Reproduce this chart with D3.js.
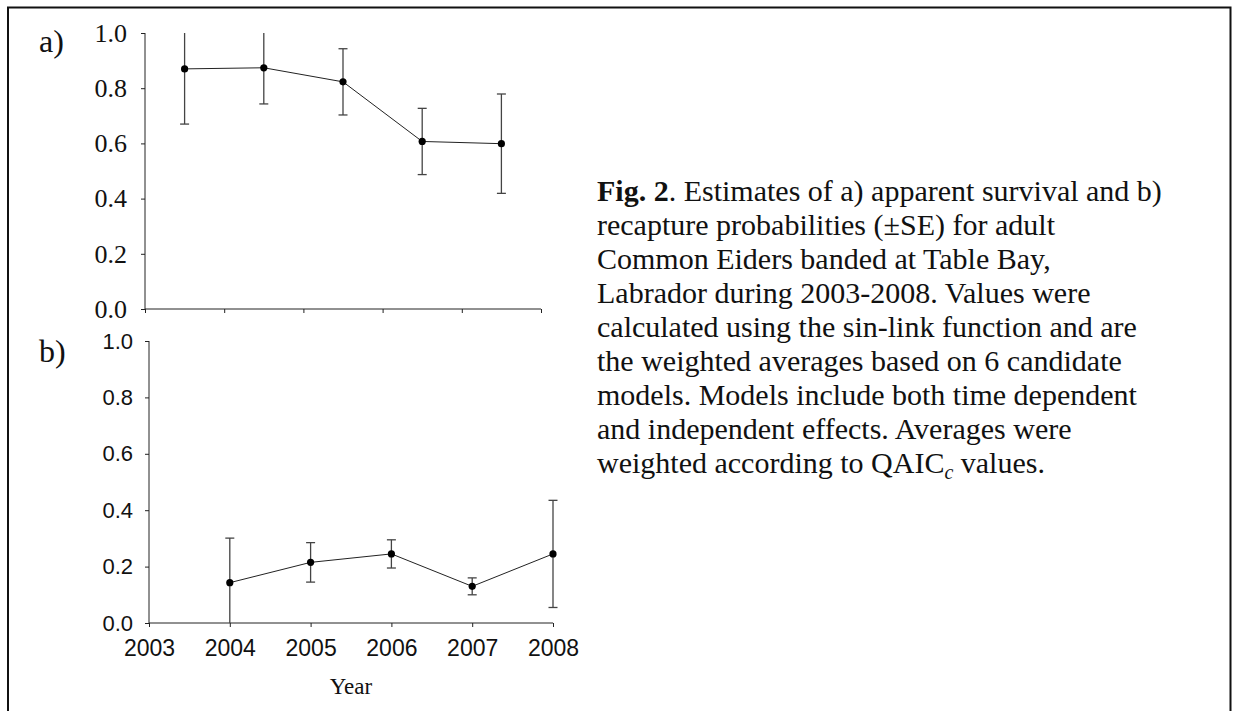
<!DOCTYPE html>
<html>
<head>
<meta charset="utf-8">
<script src="https://cdn.jsdelivr.net/npm/d3@7"></script>
<style>
  html, body { margin: 0; padding: 0; background: #fff; }
  svg { display: block; }
</style>
</head>
<body>
<svg id="chart" width="1233" height="711"></svg>
<script>
// ---- data ----
const intervalMidpoints = [2003.5, 2004.5, 2005.5, 2006.5, 2007.5];
const survival = [0.870, 0.874, 0.823, 0.607, 0.599];
const survivalSE = [0.200, 0.131, 0.120, 0.120, 0.180];

const recaptureYears = [2004, 2005, 2006, 2007, 2008];
const recapture = [0.143, 0.215, 0.245, 0.130, 0.245];
const recaptureSE = [0.158, 0.070, 0.050, 0.030, 0.190];

const yTicks = [0, 0.2, 0.4, 0.6, 0.8, 1.0];
const xTicks = [2003, 2004, 2005, 2006, 2007, 2008];

const captionLines = [
  [{t: "Fig. 2", b: true}, {t: ". Estimates of a) apparent survival and b)"}],
  [{t: "recapture probabilities (\u00B1SE) for adult"}],
  [{t: "Common Eiders banded at Table Bay,"}],
  [{t: "Labrador during 2003-2008. Values were"}],
  [{t: "calculated using the sin-link function and are"}],
  [{t: "the weighted averages based on 6 candidate"}],
  [{t: "models. Models include both time dependent"}],
  [{t: "and independent effects. Averages were"}],
  [{t: "weighted according to QAIC"}, {t: "c", i: true, sub: true}, {t: " values."}]
];

const svg = d3.select("#chart");
const SERIF = "'Liberation Serif', 'Times New Roman', serif";
const SANS = "'Liberation Sans', Arial, sans-serif";

// frame
svg.append("path")
  .attr("d", "M8,720 L8,7.5 L1230.5,7.5 L1230.5,720")
  .attr("fill", "none").attr("stroke", "#111").attr("stroke-width", 2);

// ---- panel a ----
const xa = d3.scaleLinear().domain([2003, 2008]).range([145, 541]);
const ya = d3.scaleLinear().domain([0, 1]).range([309, 33]);

const gA = svg.append("g");
const axA = gA.append("g").attr("transform", `translate(0,${ya(0)})`)
  .call(d3.axisBottom(xa).tickValues(xTicks).tickSize(4).tickFormat(""));
const ayA = gA.append("g").attr("transform", `translate(${xa(2003)},0)`)
  .call(d3.axisLeft(ya).tickValues(yTicks).tickSize(4).tickPadding(14).tickFormat(d3.format(".1f")));
[axA, ayA].forEach(g => {
  g.select(".domain").attr("stroke", "#222");
  g.selectAll("line").attr("stroke", "#222");
});
axA.select(".domain").attr("d", `M${xa(2003)},0H${xa(2008)}`);
ayA.select(".domain").attr("d", `M0,${ya(1)}V${ya(0)}`);
ayA.selectAll("text").attr("font-family", SERIF).style("font-size", "26px").attr("fill", "#111");

// error bars a
const capW = 4.5;
survival.forEach((v, i) => {
  const x = xa(intervalMidpoints[i]);
  const hi = v + survivalSE[i], lo = v - survivalSE[i];
  const hiC = Math.min(hi, 1), loC = Math.max(lo, 0);
  gA.append("line").attr("x1", x).attr("x2", x).attr("y1", ya(hiC)).attr("y2", ya(loC))
    .attr("stroke", "#444").attr("stroke-width", 1.3);
  if (hi <= 1) gA.append("line").attr("x1", x - capW).attr("x2", x + capW).attr("y1", ya(hi)).attr("y2", ya(hi)).attr("stroke", "#444").attr("stroke-width", 1.3);
  if (lo >= 0) gA.append("line").attr("x1", x - capW).attr("x2", x + capW).attr("y1", ya(lo)).attr("y2", ya(lo)).attr("stroke", "#444").attr("stroke-width", 1.3);
});
gA.append("path")
  .datum(survival)
  .attr("fill", "none").attr("stroke", "#222").attr("stroke-width", 1)
  .attr("d", d3.line().x((d, i) => xa(intervalMidpoints[i])).y(d => ya(d)));
gA.selectAll("circle.pa").data(survival).join("circle")
  .attr("cx", (d, i) => xa(intervalMidpoints[i])).attr("cy", d => ya(d)).attr("r", 3.6).attr("fill", "#000");

svg.append("text").attr("x", 39).attr("y", 52).attr("font-family", SERIF).attr("font-size", 32).attr("fill", "#111").text("a)");

// ---- panel b ----
const xb = d3.scaleLinear().domain([2003, 2008]).range([149, 553]);
const yb = d3.scaleLinear().domain([0, 1]).range([623, 341]);

const gB = svg.append("g");
const axB = gB.append("g").attr("transform", `translate(0,${yb(0)})`)
  .call(d3.axisBottom(xb).tickValues(xTicks).tickSize(4).tickPadding(13).tickFormat(d3.format("d")));
const ayB = gB.append("g").attr("transform", `translate(${xb(2003)},0)`)
  .call(d3.axisLeft(yb).tickValues(yTicks).tickSize(4).tickPadding(12).tickFormat(d3.format(".1f")));
[axB, ayB].forEach(g => {
  g.selectAll("line").attr("stroke", "#222");
  g.select(".domain").attr("stroke", "#222");
});
axB.select(".domain").attr("d", `M${xb(2003)},0H${xb(2008)}`);
ayB.select(".domain").attr("d", `M0,${yb(1)}V${yb(0)}`);
ayB.selectAll("text").attr("font-family", SANS).style("font-size", "22px").attr("fill", "#111");
axB.selectAll("text").attr("font-family", SANS).style("font-size", "23px").attr("fill", "#111");

recapture.forEach((v, i) => {
  const x = xb(recaptureYears[i]);
  const hi = v + recaptureSE[i], lo = v - recaptureSE[i];
  const hiC = Math.min(hi, 1), loC = Math.max(lo, 0);
  gB.append("line").attr("x1", x).attr("x2", x).attr("y1", yb(hiC)).attr("y2", yb(loC))
    .attr("stroke", "#444").attr("stroke-width", 1.3);
  if (hi <= 1) gB.append("line").attr("x1", x - capW).attr("x2", x + capW).attr("y1", yb(hi)).attr("y2", yb(hi)).attr("stroke", "#444").attr("stroke-width", 1.3);
  if (lo >= 0) gB.append("line").attr("x1", x - capW).attr("x2", x + capW).attr("y1", yb(lo)).attr("y2", yb(lo)).attr("stroke", "#444").attr("stroke-width", 1.3);
});
gB.append("path")
  .datum(recapture)
  .attr("fill", "none").attr("stroke", "#222").attr("stroke-width", 1)
  .attr("d", d3.line().x((d, i) => xb(recaptureYears[i])).y(d => yb(d)));
gB.selectAll("circle.pb").data(recapture).join("circle")
  .attr("cx", (d, i) => xb(recaptureYears[i])).attr("cy", d => yb(d)).attr("r", 3.6).attr("fill", "#000");

svg.append("text").attr("x", 39).attr("y", 362).attr("font-family", SERIF).attr("font-size", 32).attr("fill", "#111").text("b)");

svg.append("text").attr("x", (xb(2003) + xb(2008)) / 2).attr("y", 694).attr("text-anchor", "middle")
  .attr("font-family", SERIF).attr("font-size", 23).attr("fill", "#111").text("Year");

// ---- caption ----
const cap = svg.append("text").attr("font-family", SERIF).attr("font-size", 30).attr("fill", "#111");
captionLines.forEach((line, li) => {
  line.forEach((seg, si) => {
    const ts = cap.append("tspan").text(seg.t);
    if (si === 0) ts.attr("x", 597).attr("y", 201 + li * 34);
    if (seg.b) ts.attr("font-weight", "bold");
    if (seg.i) ts.attr("font-style", "italic");
    if (seg.sub) ts.attr("dy", 6).attr("font-size", 20);
    else if (si > 0 && line[si - 1].sub) ts.attr("dy", -6);
  });
});
</script>
</body>
</html>
